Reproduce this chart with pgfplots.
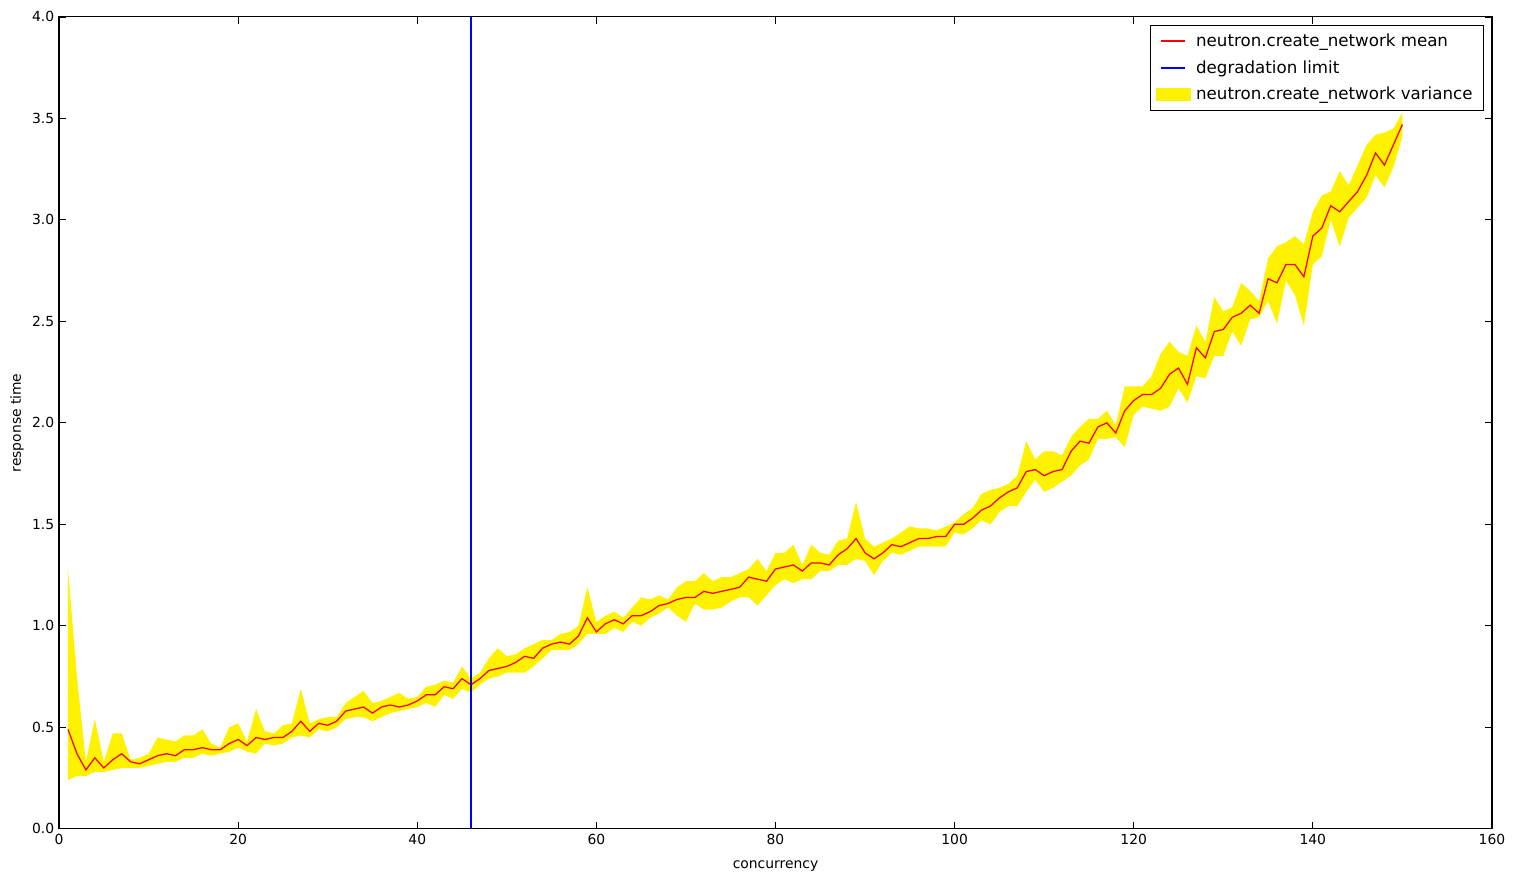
\documentclass[border=0pt]{standalone}
\usepackage{pgfplots}
\pgfplotsset{compat=1.18}
\usepackage{pgfplotstable}
\usepgfplotslibrary{fillbetween}
\usepackage{fontspec}
\setmainfont{DejaVu Sans}
\pgfplotsset{
  yellowpatch/.style={legend image code/.code={\fill[fill=yellow, draw=none] (0pt,-4.7pt) rectangle (25pt,4.7pt);}},
  redline/.style={legend image code/.code={\fill[fill=red, draw=none] (4pt,-0.5pt) rectangle (21pt,0.5pt);}},
  blueline/.style={legend image code/.code={\fill[fill=blue, draw=none] (4pt,-0.5pt) rectangle (21pt,0.5pt);}},
}
\pgfplotstableread{
x mean lo hi
1 0.49 0.24 1.28
2 0.37 0.26 0.75
3 0.29 0.26 0.33
4 0.35 0.28 0.54
5 0.30 0.28 0.33
6 0.34 0.29 0.47
7 0.37 0.30 0.47
8 0.33 0.30 0.34
9 0.32 0.30 0.35
10 0.34 0.31 0.37
11 0.36 0.32 0.45
12 0.37 0.33 0.44
13 0.36 0.33 0.43
14 0.39 0.35 0.46
15 0.39 0.35 0.46
16 0.40 0.37 0.49
17 0.39 0.36 0.42
18 0.39 0.37 0.40
19 0.42 0.38 0.50
20 0.44 0.40 0.52
21 0.41 0.38 0.43
22 0.45 0.37 0.59
23 0.44 0.42 0.48
24 0.45 0.41 0.47
25 0.45 0.42 0.51
26 0.48 0.45 0.52
27 0.53 0.46 0.69
28 0.48 0.45 0.52
29 0.52 0.49 0.54
30 0.51 0.48 0.55
31 0.53 0.50 0.55
32 0.58 0.54 0.62
33 0.59 0.55 0.65
34 0.60 0.55 0.68
35 0.57 0.53 0.62
36 0.60 0.55 0.63
37 0.61 0.57 0.65
38 0.60 0.58 0.67
39 0.61 0.59 0.64
40 0.63 0.60 0.65
41 0.66 0.62 0.70
42 0.66 0.60 0.71
43 0.70 0.66 0.73
44 0.69 0.64 0.72
45 0.74 0.69 0.80
46 0.71 0.67 0.74
47 0.74 0.71 0.77
48 0.78 0.74 0.84
49 0.79 0.75 0.89
50 0.80 0.77 0.85
51 0.82 0.77 0.86
52 0.85 0.77 0.89
53 0.84 0.80 0.91
54 0.89 0.84 0.93
55 0.91 0.88 0.93
56 0.92 0.88 0.96
57 0.91 0.88 0.97
58 0.95 0.91 1.00
59 1.04 0.96 1.19
60 0.97 0.96 1.02
61 1.01 0.96 1.05
62 1.03 0.99 1.07
63 1.01 0.97 1.04
64 1.05 1.02 1.09
65 1.05 1.00 1.14
66 1.07 1.04 1.13
67 1.10 1.06 1.15
68 1.11 1.09 1.13
69 1.13 1.05 1.19
70 1.14 1.02 1.22
71 1.14 1.11 1.22
72 1.17 1.08 1.26
73 1.16 1.08 1.22
74 1.17 1.09 1.24
75 1.18 1.12 1.24
76 1.19 1.14 1.26
77 1.24 1.14 1.28
78 1.23 1.10 1.33
79 1.22 1.15 1.27
80 1.28 1.20 1.36
81 1.29 1.23 1.36
82 1.30 1.21 1.40
83 1.27 1.23 1.30
84 1.31 1.23 1.40
85 1.31 1.27 1.36
86 1.30 1.27 1.35
87 1.35 1.30 1.42
88 1.38 1.30 1.43
89 1.43 1.33 1.61
90 1.36 1.32 1.43
91 1.33 1.25 1.39
92 1.36 1.32 1.41
93 1.40 1.36 1.43
94 1.39 1.35 1.46
95 1.41 1.37 1.49
96 1.43 1.39 1.48
97 1.43 1.39 1.48
98 1.44 1.39 1.47
99 1.44 1.39 1.49
100 1.50 1.46 1.51
101 1.50 1.45 1.55
102 1.53 1.48 1.58
103 1.57 1.52 1.65
104 1.59 1.50 1.67
105 1.63 1.56 1.68
106 1.66 1.59 1.70
107 1.68 1.59 1.74
108 1.76 1.66 1.91
109 1.77 1.72 1.82
110 1.74 1.66 1.86
111 1.76 1.68 1.86
112 1.77 1.71 1.84
113 1.86 1.74 1.93
114 1.91 1.79 1.98
115 1.90 1.82 2.02
116 1.98 1.92 2.02
117 2.00 1.92 2.06
118 1.95 1.93 1.99
119 2.06 1.88 2.18
120 2.11 2.04 2.18
121 2.14 2.08 2.18
122 2.14 2.07 2.23
123 2.17 2.06 2.34
124 2.24 2.08 2.40
125 2.27 2.17 2.35
126 2.19 2.10 2.33
127 2.37 2.23 2.48
128 2.32 2.22 2.40
129 2.45 2.33 2.62
130 2.46 2.33 2.55
131 2.52 2.45 2.57
132 2.54 2.38 2.69
133 2.58 2.51 2.65
134 2.54 2.52 2.60
135 2.71 2.60 2.81
136 2.69 2.49 2.87
137 2.78 2.70 2.89
138 2.78 2.63 2.92
139 2.72 2.48 2.88
140 2.92 2.78 3.04
141 2.96 2.82 3.12
142 3.07 3.00 3.14
143 3.04 2.87 3.24
144 3.09 3.01 3.17
145 3.14 3.06 3.27
146 3.22 3.11 3.37
147 3.33 3.22 3.42
148 3.27 3.16 3.43
149 3.37 3.26 3.45
150 3.47 3.41 3.53
}\datatable
\begin{document}
\begin{tikzpicture}
\begin{axis}[
  at={(0,0)}, anchor=south west,
  scale only axis,
  width=1031.8pt, height=584.6pt,
  xmin=0, xmax=160, ymin=0, ymax=4,
  xtick={0,20,...,160},
  ytick={0,0.5,...,4},
  yticklabel style={/pgf/number format/.cd, fixed, fixed zerofill, precision=1},
  /pgf/number format/assume math mode=true,
  tick align=inside,
  major tick length=5pt,
  tick style={black, line width=0.6pt},
  axis line style={line width=0.8pt},
  ticklabel style={font=\fontsize{10}{12}\selectfont},
  xlabel={concurrency}, ylabel={response time},
  label style={font=\fontsize{10}{12}\selectfont},
  xlabel style={yshift=-5pt},
  ylabel style={yshift=-1pt},
  legend style={at={(0.9945,0.99)}, anchor=north east, draw=black, line width=0.6pt,
    font=\fontsize{12}{14.4}\selectfont, row sep=4.6pt, inner xsep=4pt, inner ysep=4pt,
    nodes={inner xsep=4pt}},
  legend cell align=left,
]
\addplot[draw=none, name path=upper, forget plot] table[x=x, y=hi] {\datatable};
\addplot[draw=none, name path=lower, forget plot] table[x=x, y=lo] {\datatable};
\addplot[fill=yellow, draw=none, forget plot] fill between[of=upper and lower];
\addplot[red, line width=0.9pt, forget plot] table[x=x, y=mean] {\datatable};
\addplot[blue, line width=0.9pt, forget plot] coordinates {(46,0) (46,4)};
\addlegendimage{redline}
\addlegendentry{neutron.create\_network mean}
\addlegendimage{blueline}
\addlegendentry{degradation limit}
\addlegendimage{yellowpatch}
\addlegendentry{neutron.create\_network variance}
\end{axis}
\pgfresetboundingbox
\path[use as bounding box] (-42.5pt,-37.4pt) rectangle (1048.4pt,596.8pt);
\end{tikzpicture}
\end{document}
